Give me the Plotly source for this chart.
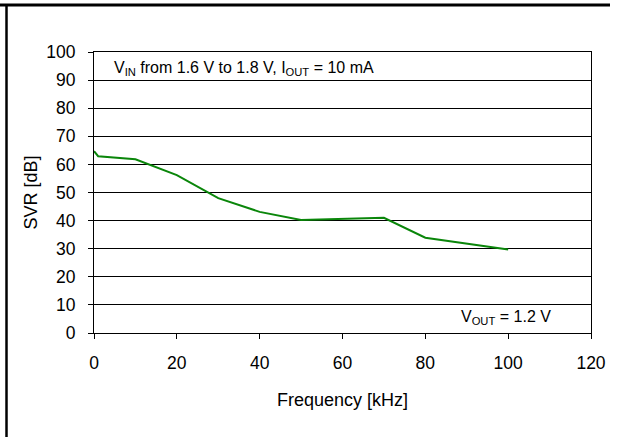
import plotly.graph_objects as go

freq_khz = [0, 1, 10, 20, 30, 40, 50, 70, 80, 100]
svr_db = [64.7, 62.9, 61.8, 56.2, 48.0, 43.1, 40.2, 41.0, 33.9, 29.7]

x_ticks = [0, 20, 40, 60, 80, 100, 120]
y_ticks = [0, 10, 20, 30, 40, 50, 60, 70, 80, 90, 100]

FONT = "Liberation Sans, Arial, sans-serif"

fig = go.Figure()
fig.add_trace(go.Scatter(x=freq_khz, y=svr_db, mode="lines",
                         line=dict(color="#0a860a", width=2), showlegend=False,
                         hoverinfo="skip"))

L, R, T, B = 94, 30, 52, 104
W, H = 621, 437
pw, ph = W - L - R, H - T - B

def px(x):
    return (x - L) / pw

def py(y):
    return (H - B - y) / ph

fig.update_layout(
    width=W, height=H,
    margin=dict(l=L, r=R, t=T, b=B, autoexpand=False),
    paper_bgcolor="white", plot_bgcolor="white",
    font=dict(family=FONT, size=18, color="black"),
    xaxis=dict(range=[0, 120], tickvals=x_ticks, showgrid=False, zeroline=False,
               showline=True, linecolor="black", linewidth=1, mirror=True,
               ticks="outside", ticklen=5, tickcolor="black",
               ticklabelstandoff=9, tickfont=dict(size=17.5),
               title=dict(text="Frequency [kHz]", font=dict(size=18), standoff=21)),
    yaxis=dict(range=[0, 100], tickvals=y_ticks, showgrid=True, gridcolor="black",
               gridwidth=1, zeroline=False,
               showline=True, linecolor="black", linewidth=1, mirror=True,
               ticks="outside", ticklen=5, tickcolor="black",
               ticklabelstandoff=9, tickfont=dict(size=17.5),
               title=dict(text="SVR [dB]", font=dict(size=18), standoff=3)),
    shapes=[
        dict(type="line", xref="paper", yref="paper", x0=px(0), x1=px(610),
             y0=py(5), y1=py(5), line=dict(color="black", width=3)),
        dict(type="line", xref="paper", yref="paper", x0=px(6.5), x1=px(6.5),
             y0=py(4), y1=py(H + 5), line=dict(color="black", width=2.5)),
    ],
    annotations=[
        dict(xref="paper", yref="paper", x=px(112), y=py(68), xanchor="left",
             yanchor="middle", showarrow=False,
             text="V<sub>IN</sub> from 1.6 V to 1.8 V, I<sub>OUT</sub> = 10 mA",
             font=dict(size=16)),
        dict(xref="paper", yref="paper", x=px(553), y=py(317), xanchor="right",
             yanchor="middle", showarrow=False,
             text="V<sub>OUT</sub> = 1.2 V", font=dict(size=16)),
    ],
)

fig.write_html("out.html", config={"displayModeBar": False},
               post_script="document.body.style.margin='0';")
